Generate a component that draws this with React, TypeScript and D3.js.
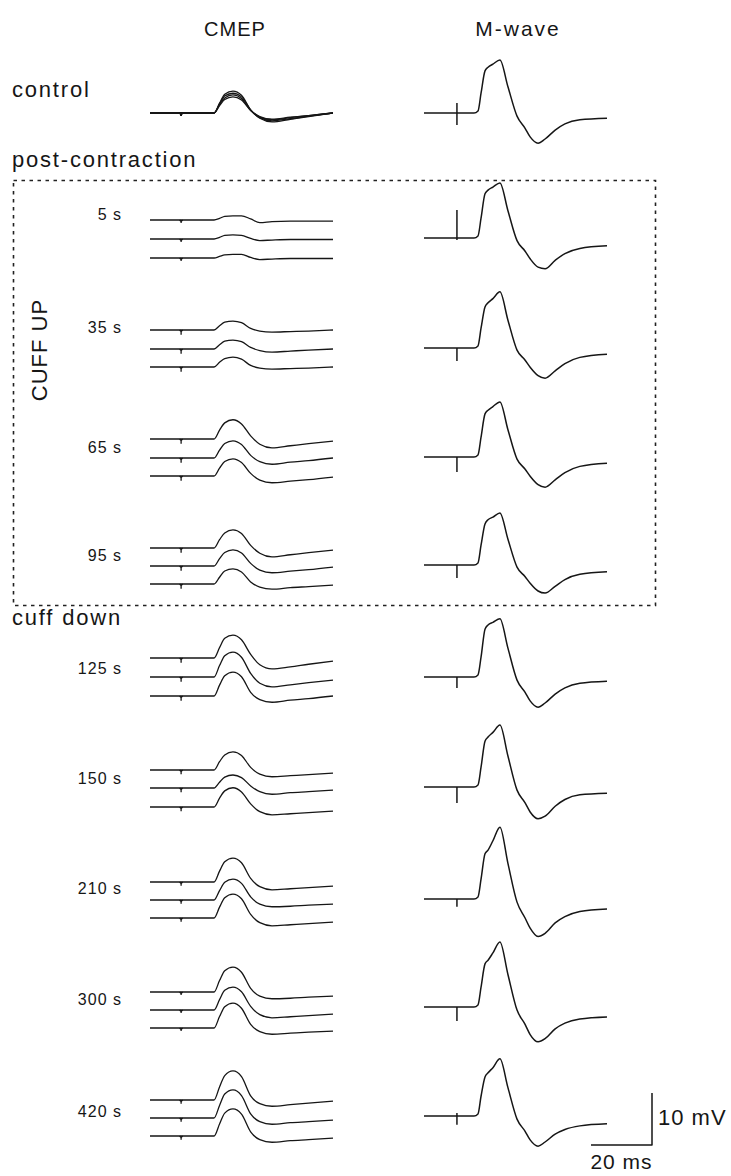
import React from "react";
import * as d3 from "d3";

const W = 731;
const H = 1176;

// sample times (ms) of the digitised sweeps
const cmepTimes = [0, 21, 22.8, 24.5, 27.2, 30, 33, 36, 40, 46, 52, 60];
const mwaveTimes = [0, 16.4, 17.7, 18.7, 20, 21, 22.6, 24.9, 27.5, 30.5, 33.1, 34.8, 37.4, 39.7, 43, 46.2, 51.1, 60];
const stimCmep = 10.2; // ms, stimulus artefact
const stimMwave = 10.8;

const rowNames = ["control", "5 s", "35 s", "65 s", "95 s", "125 s", "150 s", "210 s", "300 s", "420 s"];

// CMEP sweeps (mV) - 4 superimposed for control, 3 stacked for the others
const cmepControl = [
  [0, 0, 1.9, 3.6, 4.2, 3.4, 0.6, -1.0, -1.7, -1.2, -0.7, 0],
  [0, 0, 1.7, 3.3, 3.8, 3.1, 0.6, -0.9, -1.5, -1.1, -0.6, 0],
  [0, 0, 1.6, 2.9, 3.5, 2.8, 0.5, -0.8, -1.3, -0.9, -0.5, 0],
  [0, 0, 1.4, 2.6, 3.1, 2.5, 0.5, -0.7, -1.2, -0.8, -0.5, 0],
];
const cmep5 = [
  [0, 0, 0.3, 0.7, 0.8, 0.8, 0.2, -0.5, -0.3, -0.2, -0.2, -0.2],
  [0, 0, 0.3, 0.7, 0.8, 0.7, 0.1, -0.3, -0.2, -0.1, -0.1, -0.1],
  [0, 0, 0.3, 0.6, 0.7, 0.7, 0.1, -0.3, -0.2, -0.1, -0.1, -0.1],
];
const cmep35 = [
  [0, 0, 0.8, 1.5, 1.7, 1.4, 0.3, -0.2, -0.4, -0.3, -0.2, 0],
  [0, 0, 0.8, 1.5, 1.7, 1.4, 0.3, -0.3, -0.6, -0.4, -0.2, 0],
  [0, 0, 0.9, 1.6, 1.9, 1.5, 0.3, -0.2, -0.4, -0.3, -0.2, 0],
];
const cmep65 = [
  [0, 0, 1.7, 3.1, 3.7, 2.9, 0.6, -1.0, -1.7, -1.3, -0.9, -0.4],
  [0, 0, 1.5, 2.8, 3.3, 2.6, 0.5, -0.7, -1.2, -0.8, -0.5, 0],
  [0, 0, 1.5, 2.8, 3.3, 2.6, 0.5, -0.8, -1.3, -1.0, -0.7, -0.2],
];
const cmep95 = [
  [0, 0, 1.6, 2.9, 3.5, 2.8, 0.5, -1.0, -1.7, -1.3, -0.9, -0.4],
  [0, 0, 1.4, 2.6, 3.1, 2.5, 0.5, -0.8, -1.3, -1.0, -0.7, -0.2],
  [0, 0, 1.3, 2.5, 2.9, 2.3, 0.4, -0.6, -1.0, -0.7, -0.5, -0.2],
];
const cmep125 = [
  [0, 0, 2.0, 3.8, 4.4, 3.5, 0.7, -1.3, -2.1, -1.7, -1.2, -0.6],
  [0, 0, 2.2, 4.1, 4.8, 3.8, 0.7, -1.2, -1.9, -1.5, -1.1, -0.6],
  [0, 0, 2.1, 3.9, 4.6, 3.7, 0.7, -0.7, -1.2, -0.8, -0.5, 0],
];
const cmep150 = [
  [0, 0, 1.6, 2.9, 3.5, 2.8, 0.5, -0.8, -1.3, -1.1, -0.9, -0.6],
  [0, 0, 1.1, 2.1, 2.5, 2.0, 0.4, -0.7, -1.2, -0.9, -0.7, -0.4],
  [0, 0, 1.7, 3.1, 3.7, 2.9, 0.6, -0.9, -1.5, -1.3, -1.1, -0.8],
];
const cmep210 = [
  [0, 0, 2.1, 3.9, 4.6, 3.7, 0.7, -0.9, -1.5, -1.3, -1.1, -0.8],
  [0, 0, 1.8, 3.4, 4.0, 3.2, 0.6, -0.8, -1.3, -1.2, -1.0, -0.8],
  [0, 0, 2.1, 3.9, 4.6, 3.7, 0.7, -0.9, -1.5, -1.3, -1.1, -0.8],
];
const cmep300 = [
  [0, 0, 2.2, 4.1, 4.8, 3.8, 0.7, -0.8, -1.3, -1.2, -1.0, -0.8],
  [0, 0, 2.0, 3.8, 4.4, 3.5, 0.7, -0.9, -1.5, -1.3, -1.1, -0.8],
  [0, 0, 2.2, 4.1, 4.8, 3.8, 0.7, -0.7, -1.2, -1.0, -0.8, -0.6],
];
const cmep420 = [
  [0, 0, 2.5, 4.7, 5.6, 4.5, 0.8, -0.7, -1.2, -0.9, -0.6, -0.2],
  [0, 0, 2.4, 4.6, 5.4, 4.3, 0.8, -0.7, -1.2, -0.9, -0.7, -0.4],
  [0, 0, 2.3, 4.4, 5.2, 4.2, 0.8, -0.7, -1.2, -0.9, -0.7, -0.4],
];
const cmepStimDepth = [0.6, 0.6, 0.9, 0.9, 0.9, 0.9, 0.8, 0.7, 0.6, 0.7]; // mV

// M-wave sweeps (mV)
const mwControl = [0, 0, 0.4, 3.8, 8.1, 8.8, 9.4, 10.2, 5.1, -0.6, -2.9, -4.6, -5.8, -5.0, -3.3, -2.1, -1.3, -1.0];
const mw5 = [0, 0, 0.4, 3.8, 8.5, 9.2, 9.8, 10.6, 5.3, -0.5, -2.5, -4.0, -5.6, -5.9, -4.3, -3.0, -2.0, -1.5];
const mw35 = [0, 0, 0.4, 3.8, 7.9, 8.7, 9.5, 10.8, 5.4, -0.4, -2.3, -3.7, -5.3, -5.8, -4.4, -3.0, -1.8, -1.2];
const mw65 = [0, 0, 0.4, 3.8, 8.3, 9.0, 9.7, 10.6, 5.3, -0.4, -2.3, -3.7, -5.3, -5.8, -4.4, -3.0, -1.8, -1.2];
const mw95 = [0, 0, 0.4, 3.8, 7.9, 8.7, 9.2, 10.0, 5.0, -0.4, -2.2, -3.5, -5.0, -5.4, -4.1, -2.8, -1.8, -1.3];
const mw125 = [0, 0, 0.4, 3.8, 9.2, 10.0, 10.5, 11.2, 5.6, -0.6, -2.9, -4.6, -5.8, -5.0, -3.3, -2.1, -1.2, -0.8];
const mw150 = [0, 0, 0.4, 3.8, 8.8, 9.6, 10.5, 11.9, 6.0, -0.6, -3.0, -4.8, -6.1, -5.6, -3.7, -2.4, -1.5, -1.2];
const mw210 = [0, 0, 0.4, 3.8, 8.7, 9.4, 11.2, 13.8, 6.9, -0.6, -3.6, -5.6, -7.2, -6.6, -4.6, -3.4, -2.4, -1.9];
const mw300 = [0, 0, 0.4, 3.8, 8.3, 9.0, 10.4, 12.5, 6.3, -0.6, -3.3, -5.3, -6.7, -6.1, -4.2, -3.1, -2.3, -1.9];
const mw420 = [0, 0, 0.4, 3.8, 7.5, 8.3, 9.3, 11.0, 5.5, -0.6, -2.9, -4.6, -5.8, -5.0, -3.5, -2.6, -1.9, -1.5];
const mwStimUp = [1.9, 5.4, 0, 0, 0, 0, 0, 0, 0, 0.6]; // mV
const mwStimDown = [2.3, 0.4, 2.5, 2.9, 2.5, 2.1, 3.1, 1.5, 2.7, 1.7];

const cmepRows = [cmepControl, cmep5, cmep35, cmep65, cmep95, cmep125, cmep150, cmep210, cmep300, cmep420];
const mwRows = [mwControl, mw5, mw35, mw65, mw95, mw125, mw150, mw210, mw300, mw420];

// scale bar
const barMv = 10;
const barMs = 20;

// layout (px)
const cmepBase = [
  [113, 113, 113, 113], [220, 239, 258], [330, 349, 367], [439, 458, 476], [548, 566, 584],
  [658, 677, 696], [770, 788, 807], [882, 900, 918], [992, 1010, 1028], [1100, 1118, 1136],
];
const mwBase = [113, 238, 348, 457, 565, 677, 787, 899, 1007, 1116];
const labelY = [97, 220, 333, 453, 561, 674, 784, 894, 1005, 1117];

const font = "'Liberation Sans', Arial, sans-serif";
const ink = "#161616";

export default function App() {
  const xC = d3.scaleLinear().domain([0, 60]).range([150, 333]);
  const xM = d3.scaleLinear().domain([0, 60]).range([424, 607]);
  const mv = d3.scaleLinear().domain([0, 10]).range([0, -52]); // 10 mV = 52 px

  const path = (times: number[], x: d3.ScaleLinear<number, number>, base: number, vals: number[]) =>
    d3.line<number>()
      .x((_, i) => x(times[i]))
      .y(v => base + mv(v))
      .curve(d3.curveMonotoneX)(vals) as string;

  const barX = 652, barY = 1145;
  const msPx = xC(barMs) - xC(0);

  return (
    <svg width={W} height={H} style={{ position: "absolute", left: 0, top: 0, background: "#fff" }}
      fontFamily={font} fill={ink}>
      <text x={235} y={36} fontSize={20} textAnchor="middle" letterSpacing={1}>CMEP</text>
      <text x={518} y={36} fontSize={21} textAnchor="middle" letterSpacing={2}>M-wave</text>

      <text x={12} y={labelY[0]} fontSize={22} letterSpacing={1.8}>control</text>
      <text x={12} y={167} fontSize={22} letterSpacing={1.8}>post-contraction</text>
      <text x={12} y={625} fontSize={22} letterSpacing={1.8}>cuff down</text>
      <text transform="translate(47,350) rotate(-90)" fontSize={22} textAnchor="middle" letterSpacing={1}>CUFF UP</text>

      <rect x={13.5} y={180.5} width={642} height={425} fill="none" stroke="#222"
        strokeWidth={1.6} strokeDasharray="3.5,4.5" />

      {rowNames.slice(1).map((n, i) => (
        <text key={n} x={122} y={labelY[i + 1]} fontSize={16} textAnchor="end" letterSpacing={1}>{n}</text>
      ))}

      <g fill="none" stroke={ink} strokeWidth={1.3} strokeLinejoin="round">
        {cmepRows.map((row, r) => row.map((vals, k) => {
          const base = cmepBase[r][k];
          const sx = xC(stimCmep);
          return (
            <g key={`c${r}-${k}`}>
              <path d={path(cmepTimes, xC, base, vals)} />
              <path d={`M${sx - 1.5},${base}L${sx},${base + 1.5}L${sx + 1.5},${base}M${sx},${base}V${base - mv(cmepStimDepth[r])}`} />
            </g>
          );
        }))}
        {mwRows.map((vals, r) => {
          const base = mwBase[r];
          const sx = xM(stimMwave);
          return (
            <g key={`m${r}`}>
              <path d={path(mwaveTimes, xM, base, vals)} strokeWidth={1.5} />
              <path d={`M${sx},${base + mv(mwStimUp[r])}V${base - mv(mwStimDown[r])}`} strokeWidth={1.5} />
            </g>
          );
        })}
        <path d={`M${barX - msPx},${barY}H${barX}V${barY + mv(barMv)}`} strokeWidth={1.5} />
      </g>

      <text x={barX + 6} y={1125} fontSize={22} letterSpacing={1}>{`${barMv} mV`}</text>
      <text x={barX - msPx / 2} y={1169} fontSize={21} textAnchor="middle" letterSpacing={1}>{`${barMs} ms`}</text>
    </svg>
  );
}
